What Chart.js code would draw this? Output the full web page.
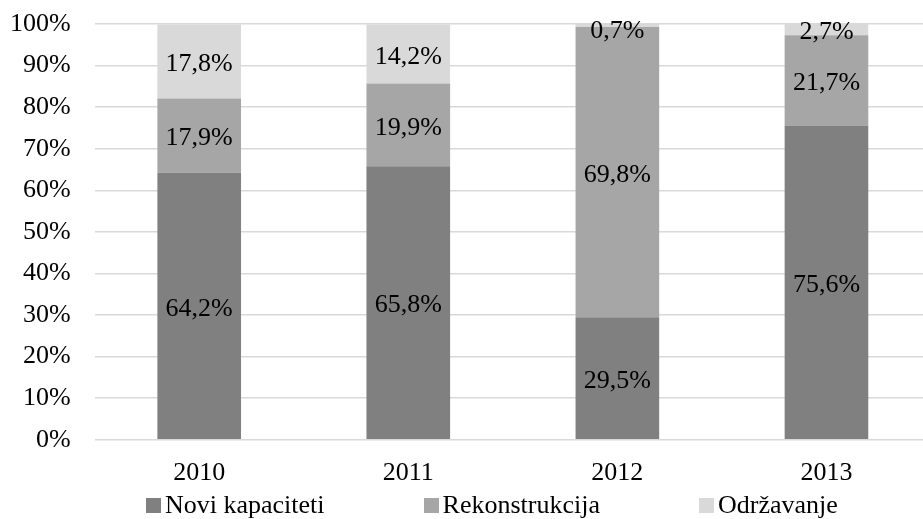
<!DOCTYPE html>
<html>
<head>
<meta charset="utf-8">
<script src="https://cdn.jsdelivr.net/npm/chart.js@4"></script>
<style>
  body { margin: 0; overflow: hidden; background: #fff; }
  #wrap { position: relative; width: 931px; height: 519px; }
  #legend { position: absolute; left: 146px; top: 490px; display: flex; gap: 99px;
            font-family: "Liberation Serif", "Times New Roman", serif; font-size: 26px; line-height: 30px; color: #000; }
  #legend span { display: inline-flex; align-items: center; }
  #legend i { display: inline-block; width: 15px; height: 15px; margin-right: 4px; }
</style>
</head>
<body>
<div id="wrap">
  <canvas id="myChart"></canvas>
  <div id="legend"></div>
</div>
<script>
var years = ["2010", "2011", "2012", "2013"];
var noviKapaciteti = [64.2, 65.8, 29.5, 75.6];
var rekonstrukcija = [17.9, 19.9, 69.8, 21.7];
var odrzavanje = [17.8, 14.2, 0.7, 2.7];
var seriesNames = ["Novi kapaciteti", "Rekonstrukcija", "Održavanje"];
var seriesColors = ["#808080", "#a6a6a6", "#d9d9d9"];

var fontFamily = '"Liberation Serif", "Times New Roman", serif';

function fmt(v) {
    return v.toFixed(1).replace(".", ",") + "%";
}

// labels in the middle of each segment
var segmentLabels = {
    id: "segmentLabels",
    afterDatasetsDraw: function (chart) {
        var ctx = chart.ctx;
        var top = chart.chartArea.top;
        ctx.save();
        ctx.font = "26px " + fontFamily;
        ctx.fillStyle = "#000";
        ctx.textAlign = "center";
        ctx.textBaseline = "middle";
        chart.data.datasets.forEach(function (ds, i) {
            chart.getDatasetMeta(i).data.forEach(function (bar, j) {
                var y = Math.max((bar.y + bar.base) / 2 + 3, top + 7);
                ctx.fillText(fmt(ds.data[j]), bar.x, y);
            });
        });
        ctx.restore();
    }
};

var allData = [noviKapaciteti, rekonstrukcija, odrzavanje];
var datasets = allData.map(function (d, i) {
    return {
        label: seriesNames[i],
        data: d,
        backgroundColor: seriesColors[i],
        borderWidth: 0,
        barPercentage: 0.4,
        categoryPercentage: 1.0
    };
});

var ctx = document.getElementById("myChart").getContext("2d");
var myChart = new Chart(ctx, {
    type: "bar",
    data: { labels: years, datasets: datasets },
    options: {
        responsive: true,
        maintainAspectRatio: false,
        animation: false,
        layout: { padding: { top: 24, left: 7, right: 0, bottom: 20 } },
        plugins: {
            legend: { display: false },
            tooltip: { enabled: false }
        },
        scales: {
            x: {
                stacked: true,
                grid: { display: false },
                border: { display: false },
                ticks: { color: "#000", font: { family: fontFamily, size: 26 }, padding: 10 }
            },
            y: {
                stacked: true,
                min: 0,
                max: 100,
                // invisible tick marks give the gap between labels and plot
                grid: { color: "#d9d9d9", lineWidth: 1.5, drawTicks: true, tickLength: 21, tickColor: "rgba(0,0,0,0)" },
                border: { display: false },
                ticks: {
                    stepSize: 10,
                    color: "#000",
                    font: { family: fontFamily, size: 26 },
                    padding: 3,
                    callback: function (v) { return v + "%"; }
                }
            }
        }
    },
    plugins: [segmentLabels]
});

var legend = document.getElementById("legend");
seriesNames.forEach(function (name, i) {
    var s = document.createElement("span");
    var box = document.createElement("i");
    box.style.background = seriesColors[i];
    s.appendChild(box);
    s.appendChild(document.createTextNode(name));
    legend.appendChild(s);
});
</script>
</body>
</html>
